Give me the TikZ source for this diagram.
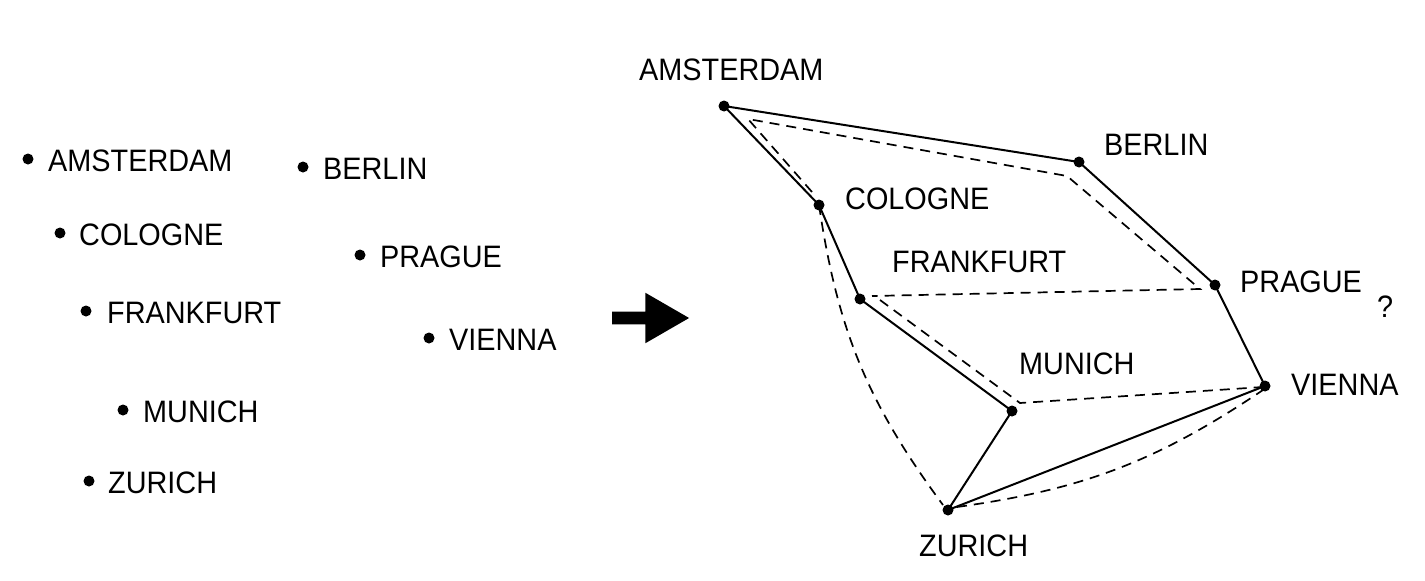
\documentclass[tikz,border=0pt]{standalone}
\usepackage{fontspec}
\setmainfont[FakeStretch=0.93]{Liberation Sans}
\usetikzlibrary{positioning,shapes.arrows}
\begin{document}
\begin{tikzpicture}[
          x=1pt,y=-1pt,
          dotnode/.style={circle,fill=black,inner sep=0pt,minimum size=11pt},
          citynode/.style={inner sep=0pt,anchor=west,font=\fontsize{31}{36}\selectfont},
          solidedge/.style={line width=2pt},
          dashedge/.style={line width=1.7pt,dash pattern=on 10pt off 7pt},
          blockarrow/.style={single arrow,fill=black,inner sep=6.25pt,minimum height=77pt,minimum width=50pt,
            single arrow head extend=18.75pt,single arrow tip angle=60,single arrow head indent=0pt}
          ]
          \useasboundingbox (0,0) rectangle (1425,581);
          % the unordered list
          \foreach \i/\xcoord/\ycoord/\lx/\city in {1/28/159/48/AMSTERDAM,2/60/233/79/COLOGNE,3/86/311/107/FRANKFURT,
            4/123/410/143/MUNICH,5/89/481/108/ZURICH,6/303/167/323/BERLIN,7/360/255/380/PRAGUE,8/429/338/449/VIENNA}
          {
            \node[dotnode] (l\i) at (\xcoord,\ycoord) {};
            \node[citynode] (lt\i) at (\lx,\ycoord+2) {\city};
          }
          % the arrow
          \node[blockarrow] (arrow) at (645,318) {};
          % the vertices of the tour
          \foreach \i/\xcoord/\ycoord in {a/724/106,b/1079/162,c/819/205,f/860/299,m/1012/411,z/948/510,p/1215/285,v/1265/386}
            \node[dotnode] (\i) at (\xcoord,\ycoord) {};
          % the labels
          \foreach \i/\xcoord/\ycoord/\city in {a/639/70/AMSTERDAM,b/1104/145/BERLIN,c/845/199/COLOGNE,f/892/262/FRANKFURT,
            m/1019/364/MUNICH,z/919/546/ZURICH,p/1240/282/PRAGUE,v/1291/385/VIENNA}
            \node[citynode] (t\i) at (\xcoord,\ycoord) {\city};
          \node[citynode] (question) at (1377,307) {?};
          % the tour
          \draw[solidedge] (a.center) -- (b.center) -- (p.center) -- (v.center) -- (z.center) -- (m.center) -- (f.center) -- (c.center) -- (a.center);
          % the dashed tour
          \coordinate (d1) at (748,119);
          \coordinate (d2) at (1067,176);
          \coordinate (d3) at (1200,289);
          \coordinate (d4) at (872,296);
          \coordinate (d5) at (880,300);
          \coordinate (d6) at (1020,403);
          \coordinate (d7) at (1263,387);
          \coordinate (d8) at (957,507);
          \coordinate (d9) at (1263,390);
          \coordinate (d10) at (943,505);
          \coordinate (d11) at (812,192);
          \draw[dashedge] (d11) -- (d1) -- (d2) -- (d3) -- (d4);
          \draw[dashedge] (d5) -- (d6) -- (d7);
          \draw[dashedge] (d8) to[bend right=13] (d9);
          \draw[dashedge] (c.center) to[bend right=14] (d10);
        \end{tikzpicture}
\end{document}
